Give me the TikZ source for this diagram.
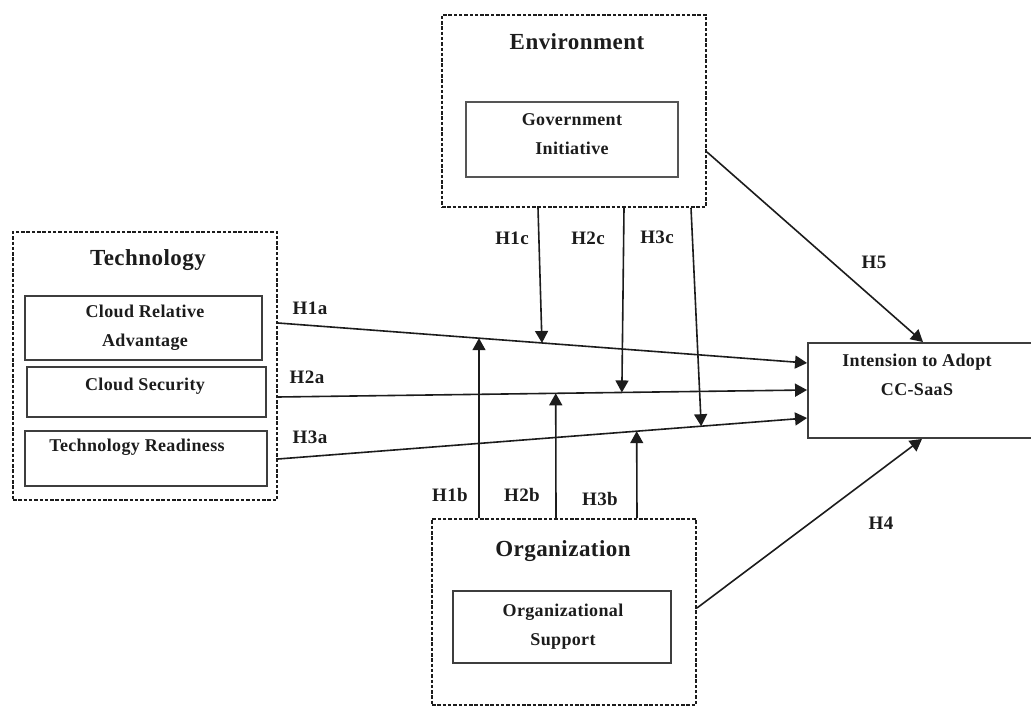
\documentclass[tikz,border=0pt]{standalone}
\usepackage{fontspec}
\setmainfont{Liberation Serif}
\usetikzlibrary{arrows.meta,calc}
\newfontfamily\lblfont[LetterSpace=2]{Liberation Serif}
\definecolor{ink}{HTML}{1C1C1C}
\begin{document}
\begin{tikzpicture}[x=1pt,y=-1pt,
  outerbox/.style={draw=ink, line width=1.9pt, dash pattern=on 3.5pt off 1.8pt, inner sep=0pt},
  innerbox/.style={draw=ink!85, line width=1.9pt, inner sep=0pt},
  titletext/.style={text=ink, font=\lblfont\bfseries\fontsize{23}{26}\selectfont, inner sep=0pt},
  boxtext/.style={text=ink, font=\lblfont\bfseries\fontsize{18}{29}\selectfont, align=center, inner sep=0pt},
  htext/.style={text=ink, font=\lblfont\bfseries\fontsize{19}{20}\selectfont, inner sep=0pt},
  arr/.style={draw=ink, line width=1.6pt, -{Triangle[length=12pt,width=13pt]}}
]
\clip (0,0) rectangle (1031,708);
\fill[white] (0,0) rectangle (1031,708);

% Technology
\node[outerbox, minimum width=264, minimum height=268] (tech) at (145,366) {};
\node[titletext] (ttech) at (148,260) {Technology};
\node[innerbox, minimum width=237, minimum height=64] (cra) at (143.5,328) {};
\node[boxtext] (tcra) at (145,328) {Cloud Relative\\Advantage};
\node[innerbox, minimum width=239, minimum height=50] (cs) at (146.5,392) {};
\node[boxtext] (tcs) at (145,386) {Cloud Security};
\node[innerbox, minimum width=242, minimum height=55] (tr) at (146,458.5) {};
\node[boxtext] (ttr) at (137,447) {Technology Readiness};

% Environment
\node[outerbox, minimum width=264, minimum height=192] (env) at (574,111) {};
\node[titletext] (tenv) at (577,42) {Environment};
\node[innerbox, draw=ink!75, line width=1.4pt, minimum width=212, minimum height=75] (gov) at (572,139.5) {};
\node[boxtext] (tgov) at (572,134) {Government\\Initiative};

% Organization
\node[outerbox, minimum width=264, minimum height=186] (org) at (564,612) {};
\node[titletext] (torg) at (563,551) {Organization};
\node[innerbox, minimum width=218, minimum height=72] (os) at (562,627) {};
\node[boxtext] (tos) at (563,627) {Organizational\\Support};

% Intension
\node[innerbox, minimum width=232, minimum height=95] (int) at (924,390.5) {};
\node[boxtext] (tint) at (917,375) {Intension to Adopt\\CC-SaaS};

% main arrows
\coordinate (a1s) at ([yshift=43pt]tech.east);
\coordinate (a2s) at ([yshift=-31pt]tech.east);
\coordinate (a3s) at ([yshift=-93pt]tech.east);
\coordinate (e1) at ([yshift=27.5pt]int.west);
\coordinate (e2) at ([yshift=0.5pt]int.west);
\coordinate (e3) at ([yshift=-27.5pt]int.west);
\draw[arr] (a1s) -- (e1);
\draw[arr] (a2s) -- (e2);
\draw[arr] (a3s) -- (e3);

% tips on lines
\coordinate (t1c) at ($(a1s)!0.499!(e1)$);
\coordinate (t1b) at ($(a1s)!0.380!(e1)$);
\coordinate (t2c) at ($(a2s)!0.650!(e2)$);
\coordinate (t2b) at ($(a2s)!0.525!(e2)$);
\coordinate (t3c) at ($(a3s)!0.800!(e3)$);
\coordinate (t3b) at ($(a3s)!0.678!(e3)$);

% moderating arrows from Environment
\draw[arr] ([xshift=-36pt]env.south) -- (t1c);
\draw[arr] ([xshift=50pt]env.south) -- (t2c);
\draw[arr] ([xshift=117pt]env.south) -- (t3c);
% moderating arrows from Organization
\draw[arr] ([xshift=-85pt]org.north) -- (t1b);
\draw[arr] ([xshift=-8pt]org.north) -- (t2b);
\draw[arr] ([xshift=73pt]org.north) -- (t3b);

% direct arrows
\draw[arr] ([yshift=-41pt]env.east) -- ([xshift=-1pt]int.north);
\draw[arr] ([yshift=4pt]org.east) -- ([xshift=-2pt]int.south);

% labels
\node[htext] (h1a) at (310,308) {H1a};
\node[htext] (h2a) at (307,377) {H2a};
\node[htext] (h3a) at (310,437) {H3a};
\node[htext] (h1c) at (512,238) {H1c};
\node[htext] (h2c) at (588,238) {H2c};
\node[htext] (h3c) at (657,237) {H3c};
\node[htext] (h1b) at (450,495) {H1b};
\node[htext] (h2b) at (522,495) {H2b};
\node[htext] (h3b) at (600,499) {H3b};
\node[htext] (h5) at (874,262) {H5};
\node[htext] (h4) at (881,523) {H4};
\end{tikzpicture}
\end{document}
